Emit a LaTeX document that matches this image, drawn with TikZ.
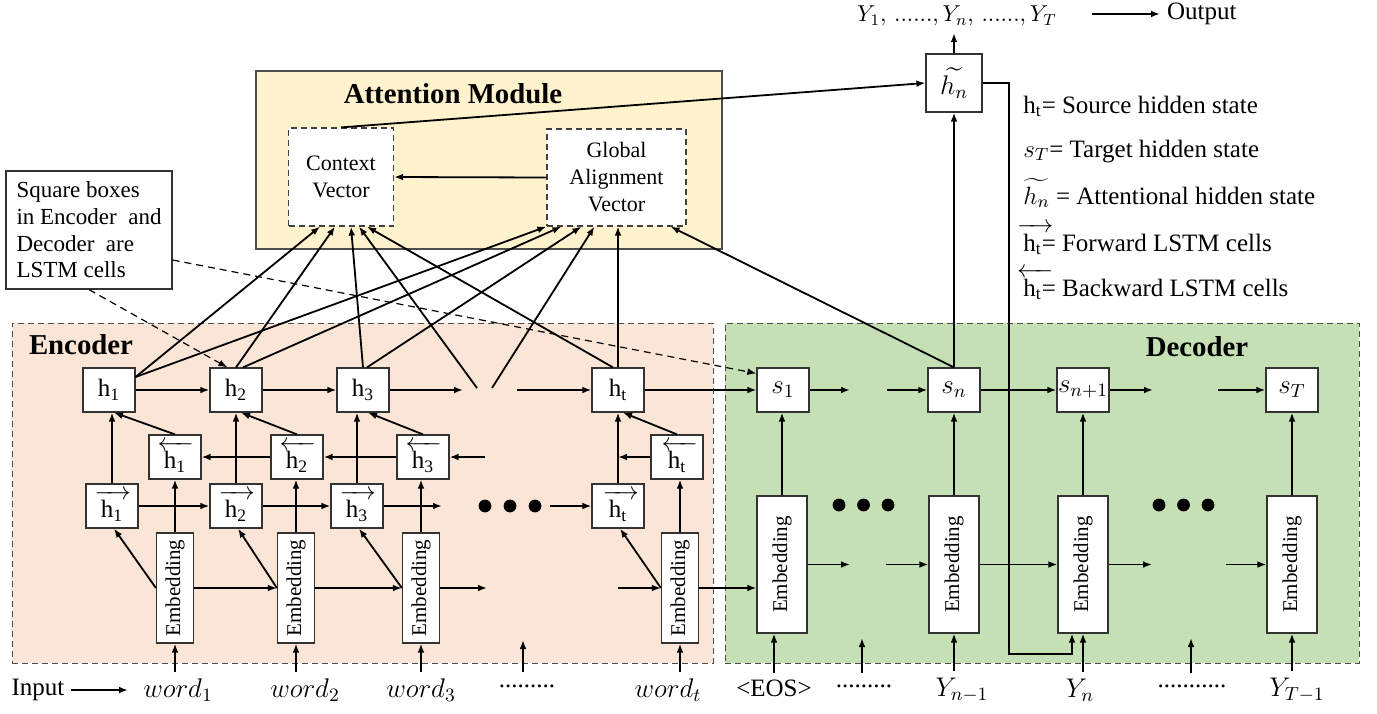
\RequirePackage{fix-cm}
\documentclass[tikz,border=0pt]{standalone}
\usepackage{amsmath}
\usepackage{graphicx}
\usepackage{fontspec}
\setmainfont{Liberation Serif}
\usetikzlibrary{arrows.meta,calc}
\definecolor{encfill}{HTML}{FBE5D6}
\definecolor{decfill}{HTML}{C5E0B4}
\definecolor{attfill}{HTML}{FFF2CC}
\newcommand{\fwh}[1]{\leavevmode\rlap{\kern-0.25em\raisebox{0.74em}{\hbox to 1.45em{\rightarrowfill}}}h\textsubscript{#1}}
\newcommand{\bwh}[1]{\leavevmode\rlap{\kern-0.25em\raisebox{0.74em}{\hbox to 1.45em{\leftarrowfill}}}h\textsubscript{#1}}
\begin{document}
\begin{tikzpicture}[x=0.5pt,y=-0.5pt,
  arr/.style={line width=0.9pt,-{Latex[length=4.5pt,width=3.4pt]}},
  dasharr/.style={line width=0.6pt,dash pattern=on 3.5pt off 2.5pt,-{Latex[length=4.5pt,width=3.4pt]}},
  cell/.style={draw=black!80,fill=white,line width=0.6pt,minimum width=26pt,minimum height=22pt,inner sep=0pt,font=\fontsize{12.5}{14}\selectfont},
  mcell/.style={cell,font=\fontsize{13.5}{15}\selectfont},
  embE/.style={draw=black!80,fill=white,line width=0.6pt,minimum width=18.5pt,minimum height=55pt,inner sep=0pt,font=\fontsize{10.5}{12}\selectfont},
  embD/.style={embE,minimum width=25pt,minimum height=68.5pt},
  region/.style={draw=black!70,line width=0.5pt,densely dashed,inner sep=0pt},
  vecbox/.style={draw=black!75,fill=white,line width=0.6pt,densely dashed,inner sep=0pt,align=center,font=\fontsize{11}{13.5}\selectfont},
  title/.style={font=\bfseries\fontsize{14.4}{17}\selectfont},
  lbl/.style={font=\fontsize{12.5}{14}\selectfont},
  mlbl/.style={font=\fontsize{13.5}{15}\selectfont},
  legend/.style={anchor=base west,inner sep=0pt,font=\fontsize{12.5}{15}\selectfont},
  bigdot/.style={fill=black}
]
\useasboundingbox (0,0) rectangle (1377,713);

% regions
\node[region,fill=encfill,minimum width=350.5pt,minimum height=170pt] (enc) at (362.5,493) {};
\node[region,fill=decfill,minimum width=317pt,minimum height=170pt] (dec) at (1042,493) {};
\node[draw=black!70,fill=attfill,line width=0.6pt,minimum width=233pt,minimum height=89pt,inner sep=0pt] (att) at (489,160) {};

\node[title] (encT) at (81,345) {Encoder};
\node[title] (decT) at (1197,347) {Decoder};
\node[title] (attT) at (453,94) {Attention Module};

% attention boxes
\node[vecbox,minimum width=52.5pt,minimum height=49pt] (cv) at (341,177) {Context\\Vector};
\node[vecbox,minimum width=69.5pt,minimum height=48.5pt] (ga) at (616.5,177.5) {Global\\Alignment\\Vector};

% note
\node[draw=black!80,fill=white,line width=0.6pt,align=left,inner xsep=5pt,inner ysep=2pt,minimum width=83pt,minimum height=59pt,font=\fontsize{11.5}{13.3}\selectfont] (note) at (89,230) {Square boxes\\in Encoder~~and\\Decoder~~are\\LSTM cells};

% encoder cells
\node[cell] (h1) at (109,390) {h\textsubscript{1}};
\node[cell] (h2) at (236,390) {h\textsubscript{2}};
\node[cell] (h3) at (363,390) {h\textsubscript{3}};
\node[cell] (ht) at (618,390) {h\textsubscript{t}};
\node[cell] (bh1) at (175,457) {\bwh{1}};
\node[cell] (bh2) at (297,457) {\bwh{2}};
\node[cell] (bh3) at (423,457) {\bwh{3}};
\node[cell] (bht) at (677,457) {\bwh{t}};
\node[cell] (fh1) at (112,506) {\fwh{1}};
\node[cell] (fh2) at (236,506) {\fwh{2}};
\node[cell] (fh3) at (357,506) {\fwh{3}};
\node[cell] (fht) at (618,506) {\fwh{t}};
\node[embE] (e1) at (175,588) {\rotatebox{90}{Embedding}};
\node[embE] (e2) at (296,588) {\rotatebox{90}{Embedding}};
\node[embE] (e3) at (421,588) {\rotatebox{90}{Embedding}};
\node[embE] (et) at (680,588) {\rotatebox{90}{Embedding}};

% decoder cells
\node[mcell] (s1) at (783,390) {$s_1$};
\node[mcell] (sn) at (954,390) {$s_n$};
\node[mcell] (sn1) at (1083,390) {$s_{n+1}$};
\node[mcell] (sT) at (1292,390) {$s_T$};
\node[embD] (de1) at (782,564.5) {\rotatebox{90}{Embedding}};
\node[embD] (den) at (954,564.5) {\rotatebox{90}{Embedding}};
\node[embD] (den1) at (1083,564.5) {\rotatebox{90}{Embedding}};
\node[embD] (deT) at (1292,564.5) {\rotatebox{90}{Embedding}};

\node[mcell,minimum width=28pt,minimum height=29pt] (hn) at (954,83) {$\widetilde{h_n}$};

% dots
\foreach \x in {485,510,535} \fill[bigdot] (\x,506) circle[radius=3.2pt];
\foreach \x in {839,863.5,888} \fill[bigdot] (\x,505) circle[radius=3.2pt];
\foreach \x in {1159,1183.5,1208} \fill[bigdot] (\x,505) circle[radius=3.2pt];

% gap coordinates
\coordinate (hg1) at (463,390); \coordinate (hg2) at (517,390);
\coordinate (bg1) at (485,457);
\coordinate (fg1) at (442,506); \coordinate (fg2) at (550,506);
\coordinate (eg1) at (487,588); \coordinate (eg2) at (618,588);
\coordinate (sg1) at (850,390); \coordinate (sg2) at (887,390);
\coordinate (sg3) at (1153,390); \coordinate (sg4) at (1218,390);
\coordinate (dg1) at (850,564.5); \coordinate (dg2) at (886,564.5);
\coordinate (dg3) at (1152,564.5); \coordinate (dg4) at (1226,564.5);
\coordinate (ag1) at (477,388); \coordinate (ag2) at (492,388);
\coordinate (fb) at (1009,654);

% encoder connections
\draw[arr] (h1.east) -- (h2.west);
\draw[arr] (h2.east) -- (h3.west);
\draw[arr] (h3.east) -- (hg1);
\draw[arr] (hg2) -- (ht.west);
\draw[arr] (ht.east) -- (s1.west);
\draw[arr] (bh2.west) -- (bh1.east);
\draw[arr] (bh3.west) -- (bh2.east);
\draw[arr] (bg1) -- (bh3.east);
\draw[arr] (bht.west) -- (bht.west -| fht.north);
\draw[arr] (fh1.east) -- (fh2.west);
\draw[arr] (fh2.east) -- (fh3.west);
\draw[arr] (fh3.east) -- (fg1);
\draw[arr] (fg2) -- (fht.west);
\foreach \i in {1,2,3,t} {
  \draw[arr] (fh\i.north) -- (fh\i.north |- h\i.south);
  \draw[arr] (bh\i.north) -- ([xshift=2.5pt]h\i.south);
  \draw[arr] (e\i.north) -- (e\i.north |- bh\i.south);
  \draw[arr] (e\i.west) -- ([xshift=1pt]fh\i.south);
}
\draw[arr] (e1.east) -- (e2.west);
\draw[arr] (e2.east) -- (e3.west);
\draw[arr] (e3.east) -- (eg1);
\draw[arr] (eg2) -- (et.west);
\draw[arr] (et.east) -- (et.east -| de1.west);

% decoder connections
\draw[arr] (de1.north) -- (de1.north |- s1.south);
\draw[arr] (den.north) -- (sn.south);
\draw[arr] (den1.north) -- (sn1.south);
\draw[arr] (deT.north) -- (sT.south);
\draw[arr] (s1.east) -- (sg1);
\draw[arr] (sg2) -- (sn.west);
\draw[arr] (sn.east) -- (sn1.west);
\draw[arr] (sn1.east) -- (sg3);
\draw[arr] (sg4) -- (sT.west);
\draw[arr] (de1.east) -- (dg1);
\draw[arr] (dg2) -- (den.west);
\draw[arr] (den.east) -- (den1.west);
\draw[arr] (den1.east) -- (dg3);
\draw[arr] (dg4) -- (deT.west);
\draw[arr] (sn.north) -- (hn.south);
\draw[arr] (hn.east) -| (fb) -| ([xshift=-5.5pt]den1.south);

% attention connections
\draw[arr] ([yshift=6.5pt]h1.east) -- ([xshift=-10.5pt]cv.south);
\draw[arr] ([yshift=6.5pt]h1.east) -- (ga.south west);
\draw[arr] (h2.north) -- ([xshift=-3pt]cv.south);
\draw[arr] ([xshift=3.5pt]h2.north) -- ([xshift=7.5pt]ga.south west);
\draw[arr] (h3.north) -- ([xshift=5pt]cv.south);
\draw[arr] ([xshift=2pt]h3.north) -- ([xshift=17.5pt]ga.south west);
\draw[arr] (ag1) -- ([xshift=9pt]cv.south);
\draw[arr] (ag2) -- ([xshift=24pt]ga.south west);
\draw[arr] ([xshift=-2.5pt]ht.north) -- ([xshift=13pt]cv.south);
\draw[arr] (ht.north) -- (ht.north |- ga.south);
\draw[arr] (sn.north) -- ([xshift=-8pt]ga.south east);
\draw[arr] (cv.north) -- (hn.west);
\draw[arr] (ga.west) -- (cv.east);

% note pointers
\draw[dasharr] (note.south) -- ([xshift=9pt]h2.north west);
\draw[dasharr] ([yshift=-15pt]note.east) -- ([yshift=-3pt]s1.north west);

% bottom labels
\node[lbl] (inp) at (38,690) {Input};
\coordinate (ia) at (128,690);
\draw[arr] (inp.east) -- (ia);
\node[mlbl] (w1) at (178,690) {$word_1$};
\node[mlbl] (w2) at (305,690) {$word_2$};
\node[mlbl] (w3) at (421,690) {$word_3$};
\node[lbl] (wd) at (527,686) {.........};
\node[mlbl] (wt) at (668,690) {$word_t$};
\coordinate (wdg) at (523,640);
\draw[arr] (e1.south |- w1.north) -- (e1.south);
\draw[arr] (e2.south |- w2.north) -- (e2.south);
\draw[arr] (e3.south |- w3.north) -- (e3.south);
\draw[arr] (wdg |- w3.north) -- (wdg);
\draw[arr] (et.south |- wt.north) -- (et.south);

\node[lbl] (eos) at (774,688) {<EOS>};
\node[lbl] (dd1) at (864,686) {.........};
\node[mlbl] (yn1) at (962,690) {$Y_{n-1}$};
\node[mlbl] (yn) at (1080,690) {$Y_n$};
\node[lbl] (dd2) at (1192,686) {...........};
\node[mlbl] (yT1) at (1297,690) {$Y_{T-1}$};
\coordinate (ddg1) at (862,638);
\coordinate (ddg2) at (1191,638);
\draw[arr] (eos.north) -- (eos.north |- de1.south);
\draw[arr] (ddg1 |- eos.north) -- (ddg1);
\draw[arr] (den.south |- yn1.north) -- (den.south);
\draw[arr] (den1.south |- yn.north) -- (den1.south);
\draw[arr] (ddg2 |- eos.north) -- (ddg2);
\draw[arr] (deT.south |- yT1.north) -- (deT.south);

% output
\node[font=\fontsize{11.5}{13}\selectfont] (outY) at (957,16) {$Y_1,\,......,Y_n,\,......,Y_T$};
\node[font=\fontsize{12.5}{15}\selectfont,anchor=west] (outL) at (1160,14) {Output};
\coordinate (oa) at (1092,14);
\draw[arr] (oa) -- (outL.west);
\draw[arr] (hn.north) -- (hn.north |- outY.south);

% legend
\node[legend] (lg1) at (1023,113) {h\textsubscript{t}= Source hidden state};
\node[legend] (lg2) at (1023,157) {$s_T$= Target hidden state};
\node[legend] (lg3) at (1023,204) {$\widetilde{h_n}$ = Attentional hidden state};
\node[legend] (lg4) at (1023,251) {\fwh{t}= Forward LSTM cells};
\node[legend] (lg5) at (1023,296) {\bwh{t}= Backward LSTM cells};
\end{tikzpicture}
\end{document}
